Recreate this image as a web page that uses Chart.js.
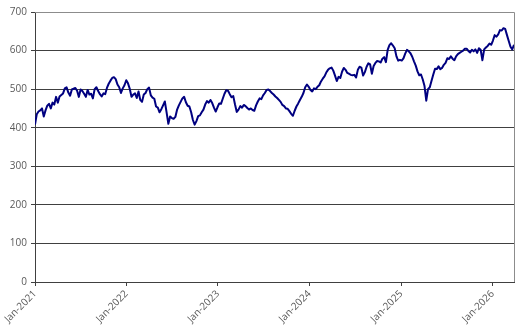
<!DOCTYPE html>
<html>
<head>
<meta charset="utf-8">
<script src="https://cdn.jsdelivr.net/npm/chart.js@4.4.1/dist/chart.umd.min.js"></script>
<style>
  html, body { margin: 0; padding: 0; background: #fff; }
  #wrap { width: 522px; height: 328px; }
</style>
</head>
<body>
<div id="wrap"><canvas id="priceChart"></canvas></div>
<script>
// Weekly closing values, one per week starting Fri 1 Jan 2021
const firstWeek = Date.UTC(2021, 0, 1);

const weeks2021 = [
    408, 435, 442, 445, 450, 429, 445, 457, 462, 450,
    465, 460, 480, 465, 481, 485, 489, 502, 505, 491,
    483, 499, 501, 503, 496, 480, 499, 495, 488, 480,
    498, 486, 488, 476, 500, 505, 495, 487, 481, 489,
    487, 503, 514, 522, 529, 531, 526, 512, 505, 490,
    502, 510
];
const weeks2022 = [
    523, 515, 501, 480, 486, 489, 477, 494, 472, 467,
    486, 490, 500, 504, 484, 478, 475, 455, 452, 440,
    448, 458, 468, 440, 410, 429, 425, 423, 428, 447,
    458, 467, 476, 480, 466, 457, 455, 440, 420, 408,
    417, 430, 432, 440, 447, 460, 469, 465, 472, 464,
    452, 442
];
const weeks2023 = [
    453, 463, 462, 475, 488, 497, 496, 487, 479, 482,
    460, 441, 447, 456, 452, 459, 456, 451, 447, 450,
    446, 444, 458, 468, 476, 474, 484, 490, 498, 499,
    495, 490, 486, 481, 477, 472, 467, 459, 456, 450,
    449, 443, 436, 431, 444, 455, 463, 472, 480, 490,
    505, 512
];
const weeks2024 = [
    506, 498, 494, 502, 500, 506, 510, 520, 527, 533,
    543, 550, 554, 556, 548, 535, 521, 532, 529, 545,
    555, 550, 542, 540, 537, 536, 537, 530, 550, 558,
    556, 535, 544, 558, 567, 564, 540, 560, 568, 573,
    572, 569, 579, 583, 570, 602, 614, 619, 613, 606,
    585, 574
];
const weeks2025 = [
    576, 574, 580, 592, 602, 598, 593, 584, 572, 561,
    546, 536, 538, 525, 508, 470, 500, 505, 522, 538,
    553, 552, 559, 552, 555, 563, 568, 580, 578, 585,
    579, 575, 585, 591, 594, 597, 600, 605, 605, 599,
    595, 602, 598, 603, 594, 606, 602, 575, 603, 608,
    612, 618
];
const weeks2026 = [
    615, 626, 640, 636, 642, 653, 652, 658, 656, 640,
    625, 610, 603, 615
];

const tickYears = [2021, 2022, 2023, 2024, 2025, 2026];
const yTicks = [0, 100, 200, 300, 400, 500, 600, 700];

const DAY = 86400000;
const closes = [].concat(weeks2021, weeks2022, weeks2023, weeks2024, weeks2025, weeks2026);
const points = closes.map((v, i) => ({ x: i * 7, y: v }));
const yearStart = y => Math.round((Date.UTC(y, 0, 1) - firstWeek) / DAY);

// gray frame on the top and right edges of the plot
const plotFrame = {
    id: 'plotFrame',
    afterDraw(chart) {
        const { ctx, chartArea: a } = chart;
        ctx.save();
        ctx.strokeStyle = '#8c8c8c';
        ctx.lineWidth = 1;
        ctx.beginPath();
        ctx.moveTo(a.left, a.top + 0.5);
        ctx.lineTo(a.right + 0.5, a.top + 0.5);
        ctx.lineTo(a.right + 0.5, a.bottom);
        ctx.stroke();
        ctx.restore();
    }
};

const tickFont = { family: '"Open Sans", "Noto Sans", sans-serif', size: 10 };

new Chart(document.getElementById('priceChart'), {
    type: 'line',
    data: {
        datasets: [{
            data: points,
            borderColor: '#000080',
            borderWidth: 2,
            borderJoinStyle: 'round',
            pointRadius: 0,
            tension: 0,
            fill: false
        }]
    },
    options: {
        responsive: true,
        maintainAspectRatio: false,
        animation: false,
        layout: { padding: { top: 12, right: 8, left: 0, bottom: 0 } },
        plugins: {
            legend: { display: false },
            tooltip: { enabled: false }
        },
        scales: {
            x: {
                type: 'linear',
                min: 0,
                max: points[points.length - 1].x,
                afterBuildTicks: axis => {
                    axis.ticks = tickYears.map(y => ({ value: yearStart(y) }));
                },
                afterFit: scale => { scale.height = 46; },
                ticks: {
                    autoSkip: false,
                    minRotation: 45,
                    maxRotation: 45,
                    padding: 2,
                    color: '#595959',
                    font: tickFont,
                    callback: value => {
                        const y = tickYears.find(t => yearStart(t) === value);
                        return 'Jan-' + y;
                    }
                },
                grid: {
                    drawOnChartArea: false,
                    drawTicks: true,
                    tickLength: 4,
                    color: '#404040'
                },
                border: { color: '#404040', width: 1 }
            },
            y: {
                min: 0,
                max: 700,
                afterBuildTicks: axis => {
                    axis.ticks = yTicks.map(v => ({ value: v }));
                },
                afterFit: scale => { scale.width = 35; },
                ticks: {
                    padding: 4,
                    color: '#595959',
                    font: tickFont
                },
                grid: {
                    color: '#404040',
                    tickLength: 4,
                    lineWidth: 1
                },
                border: { color: '#404040', width: 1 }
            }
        }
    },
    plugins: [plotFrame]
});
</script>
</body>
</html>
